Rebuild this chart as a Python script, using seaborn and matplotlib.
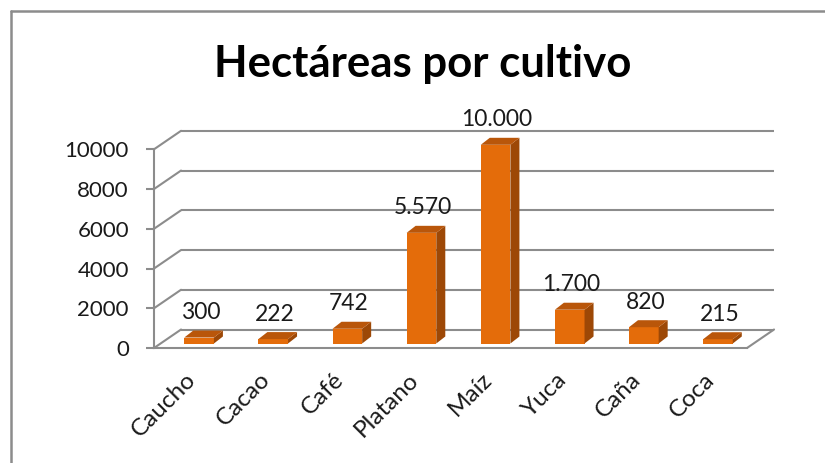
import seaborn as sns
import matplotlib
matplotlib.use("Agg")
import matplotlib.pyplot as plt
import matplotlib.transforms as mtrans
from matplotlib.patches import Polygon
from matplotlib.lines import Line2D
import pandas as pd

# data
cultivos = ["Caucho", "Cacao", "Café", "Platano", "Maíz", "Yuca", "Caña", "Coca"]
hectareas = [300, 222, 742, 5570, 10000, 1700, 820, 215]
etiquetas = ["300", "222", "742", "5.570", "10.000", "1.700", "820", "215"]
yticks = [0, 2000, 4000, 6000, 8000, 10000]

sns.set_style("white")
plt.rcParams["font.family"] = ["Lato", "DejaVu Sans"]

grid_col = "#8c8c8c"
front_col = "#e46c0a"
side_col = "#9d4806"
top_col = "#b9560a"

# pixel scale of the front plane (1 category = 74px, 10000 = 199px)
px_cat = 74.0
px_val = 198.7 / 10000

def dx(px):
    return px / px_cat

def dy(px):
    return px / px_val

fig = plt.figure(figsize=(8.25, 4.63), dpi=100)
ax = fig.add_axes([154 / 825, 115 / 463, 593 / 825, 198.7 / 463])

df = pd.DataFrame({"cultivo": cultivos, "ha": hectareas})
sns.barplot(data=df, x="cultivo", y="ha", color=front_col, width=0.4,
            saturation=1, ax=ax, zorder=3)

ax.set_xlim(-0.5, len(cultivos) - 0.5)
ax.set_ylim(0, 10000)

# floor / wall depth
fdx, fdy = dx(27), dy(18.5)
x0, x1 = -0.5, len(cultivos) - 0.5
for v in yticks:
    ax.plot([x0 + fdx, x1 + fdx], [v + fdy, v + fdy], color=grid_col, lw=1.5,
            clip_on=False, zorder=1, solid_capstyle="butt")
    ax.plot([x0, x0 + fdx], [v, v + fdy], color=grid_col, lw=1.5,
            clip_on=False, zorder=1)
ax.plot([x1, x1 + fdx], [0, fdy], color=grid_col, lw=1.5, clip_on=False, zorder=1)

# 3d look for the bars
bdx, bdy = dx(8), dy(4.5)
ddx, ddy = dx(9), dy(7)
for p, lab in zip(ax.patches, etiquetas):
    h = p.get_height()
    p.set_x(p.get_x() + bdx)
    p.set_y(bdy)
    p.set_clip_on(False)
    p.set_edgecolor("none")
    xl = p.get_x()
    xr = xl + p.get_width()
    side = Polygon([(xr, bdy), (xr, bdy + h), (xr + ddx, bdy + h + ddy), (xr + ddx, bdy + ddy)],
                   closed=True, facecolor=side_col, edgecolor="none", zorder=3, clip_on=False)
    top = Polygon([(xl, bdy + h), (xr, bdy + h), (xr + ddx, bdy + h + ddy), (xl + ddx, bdy + h + ddy)],
                  closed=True, facecolor=top_col, edgecolor="none", zorder=3, clip_on=False)
    ax.add_patch(side)
    ax.add_patch(top)
    ax.annotate(lab, (xl + p.get_width() / 2, bdy + h), xytext=(1, 10.5),
                textcoords="offset points", ha="center", va="bottom",
                fontsize=16.5, color="#1a1a1a", annotation_clip=False)

# axes lines and ticks
for s in ["top", "right"]:
    ax.spines[s].set_visible(False)
for s in ["left", "bottom"]:
    ax.spines[s].set_color(grid_col)
    ax.spines[s].set_linewidth(1.5)
ax.set_yticks(yticks)
ax.set_yticklabels([str(v) for v in yticks])
ax.tick_params(axis="y", direction="out", length=6, width=1.5, color=grid_col,
               labelsize=16, labelcolor="#1a1a1a", pad=12, left=True)
ax.set_xticks([i - 0.5 for i in range(len(cultivos) + 1)], minor=True)
ax.tick_params(axis="x", which="minor", direction="out", length=5, width=1.5, color=grid_col)
ax.tick_params(axis="x", which="major", length=0, labelsize=17.5, labelcolor="#1a1a1a", pad=15)
shift = mtrans.ScaledTranslation(-6 / 100, 0, fig.dpi_scale_trans)
for t in ax.get_xticklabels():
    t.set_rotation(45)
    t.set_ha("right")
    t.set_va("top")
    t.set_rotation_mode("anchor")
    t.set_transform(t.get_transform() + shift)
ax.set_xlabel("")
ax.set_ylabel("")
ax.set_facecolor("none")

fig.text(423 / 825, 1 - 77 / 463, "Hectáreas por cultivo", ha="center", va="baseline",
         fontsize=31.5, fontweight="bold", color="black")

# chart frame (left and top edge)
fig.add_artist(Line2D([11 / 825, 11 / 825], [0, 1 - 11 / 463], color=grid_col, lw=1.8,
                      transform=fig.transFigure))
fig.add_artist(Line2D([11 / 825, 1], [1 - 11 / 463, 1 - 11 / 463], color=grid_col, lw=1.8,
                      transform=fig.transFigure))

fig.savefig("out.png", dpi=100)
